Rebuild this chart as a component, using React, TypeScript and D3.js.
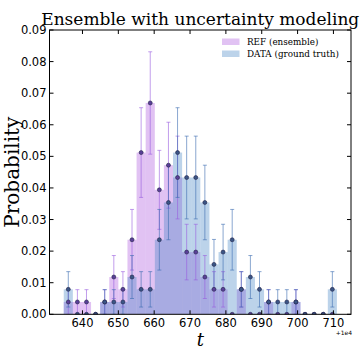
import * as d3 from "d3";

// histogram bins (t - 1e4)
const binStart = 634.77;
const binWidth = 2.54;

const refProb = [0.0039, 0.0039, 0.0039, 0, 0.0039, 0.0118, 0.0079, 0.0236, 0.0512, 0.0669, 0.0394, 0.0472, 0.0433, 0.0197, 0.0197, 0.0118, 0.0079, 0.0079, 0, 0.0079, 0, 0, 0.0039, 0, 0, 0.0039, 0, 0, 0, 0];
const refErr = [0.0039, 0.0039, 0.0039, 0, 0.0039, 0.0068, 0.0056, 0.0096, 0.0142, 0.0162, 0.0125, 0.0136, 0.0131, 0.0088, 0.0088, 0.0068, 0.0056, 0.0056, 0, 0.0056, 0, 0, 0.0039, 0, 0, 0.0039, 0, 0, 0, 0];
const dataProb = [0.0079, 0, 0, 0, 0.0039, 0.0039, 0.0039, 0.0118, 0.0079, 0.0079, 0.0236, 0.0354, 0.0512, 0.0433, 0.0433, 0.0354, 0.0158, 0.0197, 0.0236, 0.0079, 0.0118, 0.0079, 0.0039, 0.0039, 0.0039, 0.0039, 0, 0, 0, 0.0079];
const dataErr = [0.0056, 0, 0, 0, 0.0039, 0.0039, 0.0039, 0.0068, 0.0056, 0.0056, 0.0096, 0.0118, 0.0142, 0.0131, 0.0131, 0.0118, 0.0079, 0.0088, 0.0096, 0.0056, 0.0068, 0.0056, 0.0039, 0.0039, 0.0039, 0.0039, 0, 0, 0, 0.0056];

const xTicks = [640, 650, 660, 670, 680, 690, 700, 710];
const yTicks = [0, 0.01, 0.02, 0.03, 0.04, 0.05, 0.06, 0.07, 0.08, 0.09];

const series = [
  { name: "REF (ensemble)", prob: refProb, err: refErr, fill: "#b366e0", fillOpacity: 0.4, errColor: "#9a5ee0", dot: "#5a3f98" },
  { name: "DATA (ground truth)", prob: dataProb, err: dataErr, fill: "#4081c3", fillOpacity: 0.35, errColor: "#3c6cb0", dot: "#3a5585" },
];

const W = 361, H = 352;
const m = { left: 49.5, right: 351, top: 30, bottom: 314.3 };

export default function App() {
  const x = d3.scaleLinear().domain([630.8, 714.9]).range([m.left, m.right]);
  const y = d3.scaleLinear().domain([0, 0.09]).range([m.bottom, m.top]);
  const centers = refProb.map((_, i) => binStart + binWidth * (i + 0.5));
  const serif = "'DejaVu Serif', serif";
  const sans = "'DejaVu Sans', sans-serif";
  const cap = 2;
  const tick = 4;

  return (
    <svg width={W} height={H} style={{ position: "absolute", left: 0, top: 0, background: "#fff" }}>
      <defs>
        <clipPath id="plot">
          <rect x={m.left} y={m.top} width={m.right - m.left} height={m.bottom - m.top} />
        </clipPath>
      </defs>
      <text x={(m.left + m.right) / 2} y={25} textAnchor="middle" fontFamily={serif} fontSize={17}>
        Ensemble with uncertainty modeling
      </text>
      <g clipPath="url(#plot)">
        {series.map((s) => (
          <g key={s.name} fill={s.fill} fillOpacity={s.fillOpacity}>
            {s.prob.map((p, i) => (
              <rect key={i} x={x(centers[i] - binWidth / 2)} width={x(binWidth) - x(0)} y={y(p)} height={y(0) - y(p)} />
            ))}
          </g>
        ))}
        {series.map((s) => (
          <g key={s.name + "e"} stroke={s.errColor} strokeOpacity={0.6} strokeWidth={1}>
            {s.prob.map((p, i) =>
              s.err[i] > 0 ? (
                <g key={i}>
                  <line x1={x(centers[i])} x2={x(centers[i])} y1={y(p - s.err[i])} y2={y(p + s.err[i])} />
                  <line x1={x(centers[i]) - cap} x2={x(centers[i]) + cap} y1={y(p - s.err[i])} y2={y(p - s.err[i])} />
                  <line x1={x(centers[i]) - cap} x2={x(centers[i]) + cap} y1={y(p + s.err[i])} y2={y(p + s.err[i])} />
                </g>
              ) : null
            )}
          </g>
        ))}
        {series.map((s) => (
          <g key={s.name + "d"} fill={s.dot} stroke="#23234a" strokeWidth={0.6}>
            {s.prob.map((p, i) => (
              <circle key={i} cx={x(centers[i])} cy={y(p)} r={2} />
            ))}
          </g>
        ))}
      </g>
      <rect x={m.left} y={m.top} width={m.right - m.left} height={m.bottom - m.top} fill="none" stroke="#000" strokeWidth={1} />
      {xTicks.map((t) => (
        <g key={t}>
          <line x1={x(t)} x2={x(t)} y1={m.bottom} y2={m.bottom - tick} stroke="#000" />
          <line x1={x(t)} x2={x(t)} y1={m.top} y2={m.top + tick} stroke="#000" />
          <text x={x(t)} y={326.5} textAnchor="middle" fontFamily={sans} fontSize={11.5}>{t}</text>
        </g>
      ))}
      {yTicks.map((t) => (
        <g key={t}>
          <line x1={m.left} x2={m.left + tick} y1={y(t)} y2={y(t)} stroke="#000" />
          <line x1={m.right} x2={m.right - tick} y1={y(t)} y2={y(t)} stroke="#000" />
          <text x={46.5} y={y(t)} dy="0.36em" textAnchor="end" fontFamily={sans} fontSize={11.5}>{t.toFixed(2)}</text>
        </g>
      ))}
      <text x={352} y={334.5} textAnchor="end" fontFamily={sans} fontSize={6}>+1e4</text>
      <text x={(m.left + m.right) / 2} y={346} textAnchor="middle" fontFamily={serif} fontStyle="italic" fontSize={18}>t</text>
      <text transform={`translate(19,${(m.top + m.bottom) / 2}) rotate(-90)`} textAnchor="middle" fontFamily={serif} fontSize={20}>Probability</text>
      {series.map((s, i) => (
        <g key={s.name + "l"} transform={`translate(222,${38.5 + i * 12})`}>
          <rect width={17.5} height={6.5} fill={s.fill} fillOpacity={s.fillOpacity} />
          <text x={25} y={6} fontFamily={serif} fontSize={8.8}>{s.name}</text>
        </g>
      ))}
    </svg>
  );
}
